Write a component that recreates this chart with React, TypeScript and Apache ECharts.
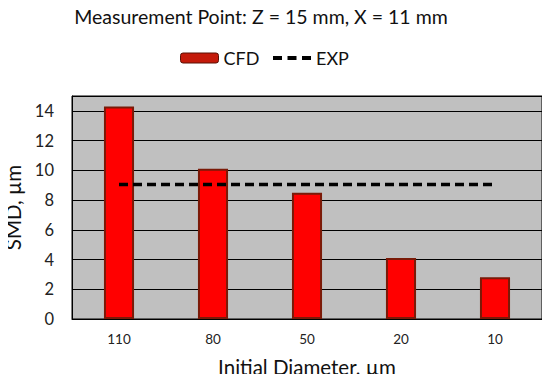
import React, { useEffect, useRef } from "react";
import * as echarts from "echarts";

const categories = ["110", "80", "50", "20", "10"];
const cfdValues = [14.3, 10.1, 8.5, 4.1, 2.8];
const expValues = [9.05, 9.05, 9.05, 9.05, 9.05];
const titleText = "Measurement Point: Z = 15 mm, X = 11 mm";

const FONT = "Lato, 'Open Sans', sans-serif";

export default function App() {
  const ref = useRef<HTMLDivElement>(null);
  useEffect(() => {
    if (!ref.current) return;
    const chart = echarts.init(ref.current, undefined, { renderer: "svg" });
    chart.setOption({
      animation: false,
      backgroundColor: "#ffffff",
      textStyle: { fontFamily: FONT },
      title: {
        text: titleText,
        left: 256,
        top: 1,
        textAlign: "center",
        textStyle: { fontFamily: FONT, fontSize: 19.5, fontWeight: "normal", color: "#111" },
      },
      legend: [
        {
          left: 175,
          top: 44,
          itemWidth: 38,
          itemHeight: 10,
          textStyle: { fontFamily: FONT, fontSize: 18, color: "#111" },
          data: [{ name: "CFD", itemStyle: { color: "#c41a0a", borderColor: "#5a1005", borderWidth: 1 } }],
        },
        {
          left: 268,
          top: 44,
          itemWidth: 38,
          itemHeight: 4,
          textStyle: { fontFamily: FONT, fontSize: 18, color: "#111" },
          data: [
            {
              name: "EXP",
              icon: "path://M0,0h9v4h-9z M14.5,0h9v4h-9z M29,0h9v4h-9z",
              itemStyle: { color: "#000" },
            },
          ],
        },
      ],
      grid: {
        left: 72,
        right: 8,
        top: 96,
        bottom: 63,
        show: true,
        backgroundColor: "#c0c0c0",
        borderColor: "#000",
        borderWidth: 1,
        containLabel: false,
        outerBoundsMode: "none",
      },
      xAxis: {
        type: "category",
        data: categories,
        name: "Initial Diameter, µm",
        nameLocation: "middle",
        nameGap: 37,
        nameTextStyle: { fontFamily: FONT, fontSize: 20.5, color: "#111" },
        axisTick: { show: false },
        axisLine: { lineStyle: { color: "#000" } },
        axisLabel: { fontFamily: FONT, fontSize: 13.5, color: "#222", margin: 13 },
      },
      yAxis: {
        type: "value",
        min: 0,
        max: 15,
        interval: 2,
        name: "SMD, µm",
        nameLocation: "middle",
        nameGap: 44,
        nameTextStyle: { fontFamily: FONT, fontSize: 20.5, color: "#111" },
        axisLine: { show: true, lineStyle: { color: "#000" } },
        axisTick: { show: false },
        axisLabel: { fontFamily: FONT, fontSize: 16.5, color: "#222", margin: 18, showMaxLabel: false },
        splitLine: { show: true, lineStyle: { color: "#000", width: 1 } },
      },
      series: [
        {
          name: "CFD",
          type: "bar",
          data: cfdValues,
          barWidth: "32%",
          itemStyle: { color: "#ff0000", borderColor: "#7a1a08", borderWidth: 2 },
        },
        {
          name: "EXP",
          type: "line",
          data: expValues,
          showSymbol: false,
          symbol: "none",
          lineStyle: { color: "#000", width: 3.5, type: [9, 5] },
          itemStyle: { color: "#000" },
        },
      ],
    });
    return () => chart.dispose();
  }, []);
  return <div ref={ref} style={{ width: 550, height: 382, margin: -8 }} />;
}
